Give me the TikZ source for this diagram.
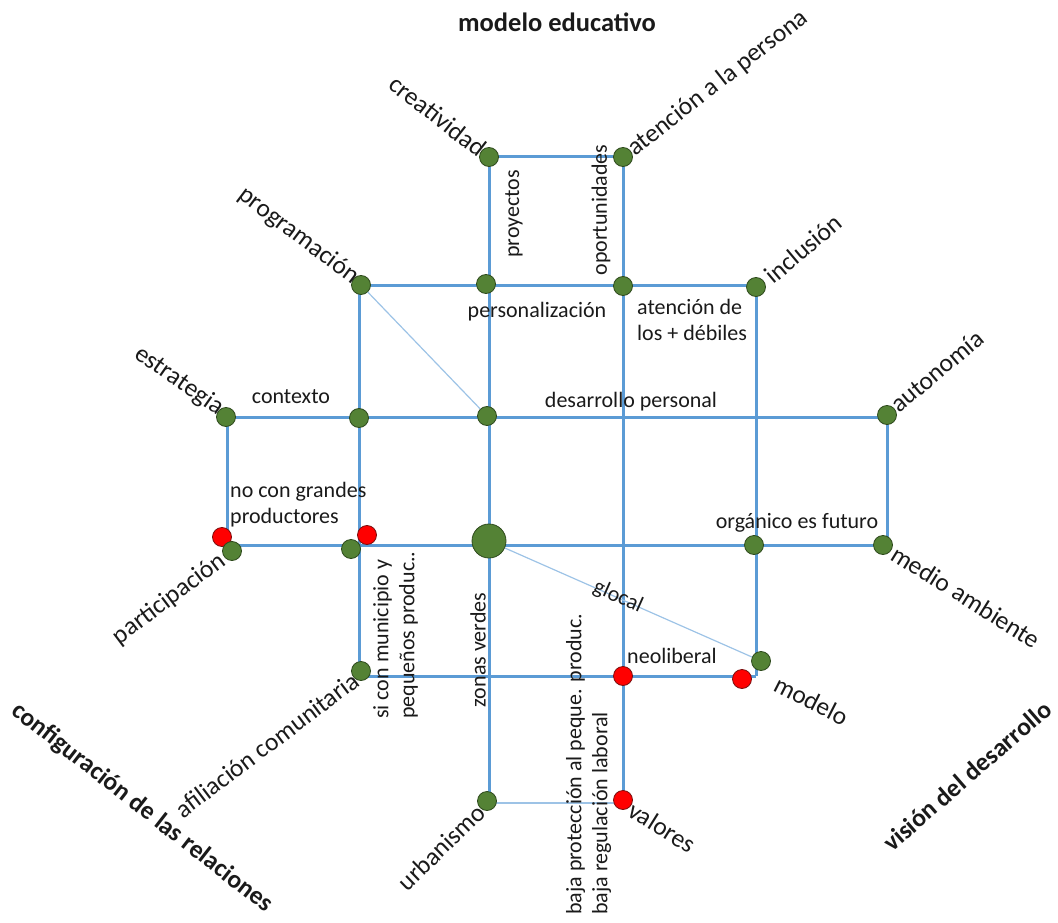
\documentclass[tikz,border=0pt]{standalone}
\usepackage{fontspec}
\setmainfont{Carlito}
\definecolor{lblue}{HTML}{5B9BD5}
\definecolor{tblue}{HTML}{9DC3E6}
\definecolor{dgreen}{HTML}{548235}
\definecolor{gedge}{HTML}{2E4A1D}
\definecolor{redge}{HTML}{7A1010}
\definecolor{txt}{HTML}{1A1A1A}
\begin{document}
\begin{tikzpicture}[x=1pt,y=-1pt,
 ln/.style={draw=lblue, line width=3pt},
 thinln/.style={draw=tblue, line width=1.2pt},
 gdot/.style={circle, fill=dgreen, draw=gedge, line width=0.8pt, minimum size=19pt, inner sep=0pt},
 rdot/.style={circle, fill=red, draw=redge, line width=0.8pt, minimum size=19pt, inner sep=0pt},
 bigdot/.style={gdot, minimum size=34pt},
 lab/.style={font=\fontsize{22}{26}\selectfont, text=txt, inner sep=1pt},
 dlab/.style={font=\fontsize{25.5}{30}\selectfont, text=txt, inner sep=1pt},
 ttl/.style={font=\fontsize{26.5}{31}\selectfont\bfseries, text=txt, inner sep=1pt},
 ttlb/.style={font=\fontsize{25.5}{30}\selectfont\bfseries, text=txt, inner sep=0pt}]
\useasboundingbox (0,0) rectangle (1058,923);
% grid coordinates
\coordinate (C1) at (489,157); \coordinate (D1) at (623,157);
\coordinate (B2) at (359,285); \coordinate (E2) at (756,285);
\coordinate (A3) at (227,417); \coordinate (F3) at (887,417);
\coordinate (A4) at (227,545); \coordinate (F4) at (887,545);
\coordinate (B5) at (359,676); \coordinate (E5) at (756,676);
\coordinate (C6) at (489,803); \coordinate (D6) at (623,803);
% lines
\draw[thinln] (C6) -- (D6);
\draw[ln] (C1) -- (D1);
\draw[ln] (C1) -- (C6);
\draw[ln] (D1) -- (D6);
\draw[ln] (B2) -- (E2);
\draw[ln] (B2) -- (B5);
\draw[ln] (E2) -- (E5);
\draw[ln] (A3) -- (F3);
\draw[ln] (A3) -- (A4);
\draw[ln] (F3) -- (F4);
\draw[ln] (A4) -- (F4);
\draw[ln] (B5) -- (E5);
% dots
\node[gdot] (ncrea) at (489,157) {};
\node[gdot] (naten) at (623,157) {};
\node[gdot] (nprog) at (361,285) {};
\node[gdot] (npers) at (486,284) {};
\node[gdot] (nopor) at (623,286) {};
\node[gdot] (nincl) at (756,287) {};
\node[gdot] (nestr) at (226,417) {};
\node[gdot] (nctx) at (359,418) {};
\node[gdot] (ndes) at (487,416) {};
\node[gdot] (nauto) at (887,415) {};
\node[rdot] (rpart) at (222,537) {};
\node[gdot] (npart) at (232,551) {};
\node[gdot] (nprod) at (351,549) {};
\node[rdot] (rprod) at (367,535) {};
\node[bigdot] (ncen) at (489,541) {};
\node[gdot] (norg) at (754,545) {};
\node[gdot] (nmed) at (883,545) {};
\node[gdot] (nafil) at (361,671) {};
\node[gdot] (nmod) at (761,661) {};
\node[rdot] (rneo) at (623,676) {};
\node[rdot] (rneo2) at (742,679) {};
\node[gdot] (nurb) at (487,801) {};
\node[rdot] (rval) at (623,800) {};
% thin diagonals
\draw[thinln] (nprog) -- (ndes);
\draw[thinln] (ncen) -- (nmod);
% titles
\node[ttl] (t1) at (557,22) {modelo educativo};
\node[ttlb, rotate=-38] (t2) at (142,808) {configuración de las relaciones};
\node[ttlb, rotate=41] (t3) at (967,776) {visión del desarrollo};
% diagonal labels
\node[dlab, rotate=-38, anchor=east] (l1) at (484,152) {creatividad};
\node[dlab, rotate=38, anchor=west] (l2) at (630,152) {atención a la persona};
\node[dlab, rotate=-37, anchor=east] (l3) at (357,280) {programación};
\node[dlab, rotate=40, anchor=west] (l4) at (767,279) {inclusión};
\node[dlab, rotate=-35, anchor=east] (l5) at (222,411) {estrategia};
\node[dlab, rotate=40, anchor=west] (l6) at (893,408) {autonomía};
\node[dlab, rotate=37, anchor=east] (l7) at (224,558) {participación};
\node[dlab, rotate=-32, anchor=west] (l8) at (893,551) {medio ambiente};
\node[dlab, rotate=-27, anchor=west] (l9) at (775,682) {modelo};
\node[dlab, rotate=37, anchor=east] (l10) at (357,677) {afiliación comunitaria};
\node[dlab, rotate=44, anchor=east] (l11) at (482,808) {urbanismo};
\node[dlab, rotate=-32, anchor=west] (l12) at (630,807) {valores};
% small labels
\node[lab, rotate=90] (s1) at (514,214) {proyectos};
\node[lab, rotate=90] (s2) at (601,210) {oportunidades};
\node[lab] (s3) at (537,312) {personalización};
\node[lab, align=left, anchor=west] (s4) at (636,320) {atención de\\los + débiles};
\node[lab] (s5) at (291,397) {contexto};
\node[lab] (s6) at (631,402) {desarrollo personal};
\node[lab, align=left, anchor=west] (s7) at (229,505) {no con grandes\\productores};
\node[lab] (s8) at (797,523) {orgánico es futuro};
\node[lab, rotate=90, align=left, anchor=north west] (s9) at (372,720) {si con municipio y\\pequeños produc..};
\node[lab, rotate=90] (s10) at (478,650) {zonas verdes};
\node[lab, rotate=-24] (s11) at (618,597) {glocal};
\node[lab] (s12) at (672,656) {neoliberal};
\node[lab, rotate=90, align=left, anchor=north west] (s13) at (565,916) {baja protección al peque. produc.\\baja regulación laboral};
\end{tikzpicture}
\end{document}
